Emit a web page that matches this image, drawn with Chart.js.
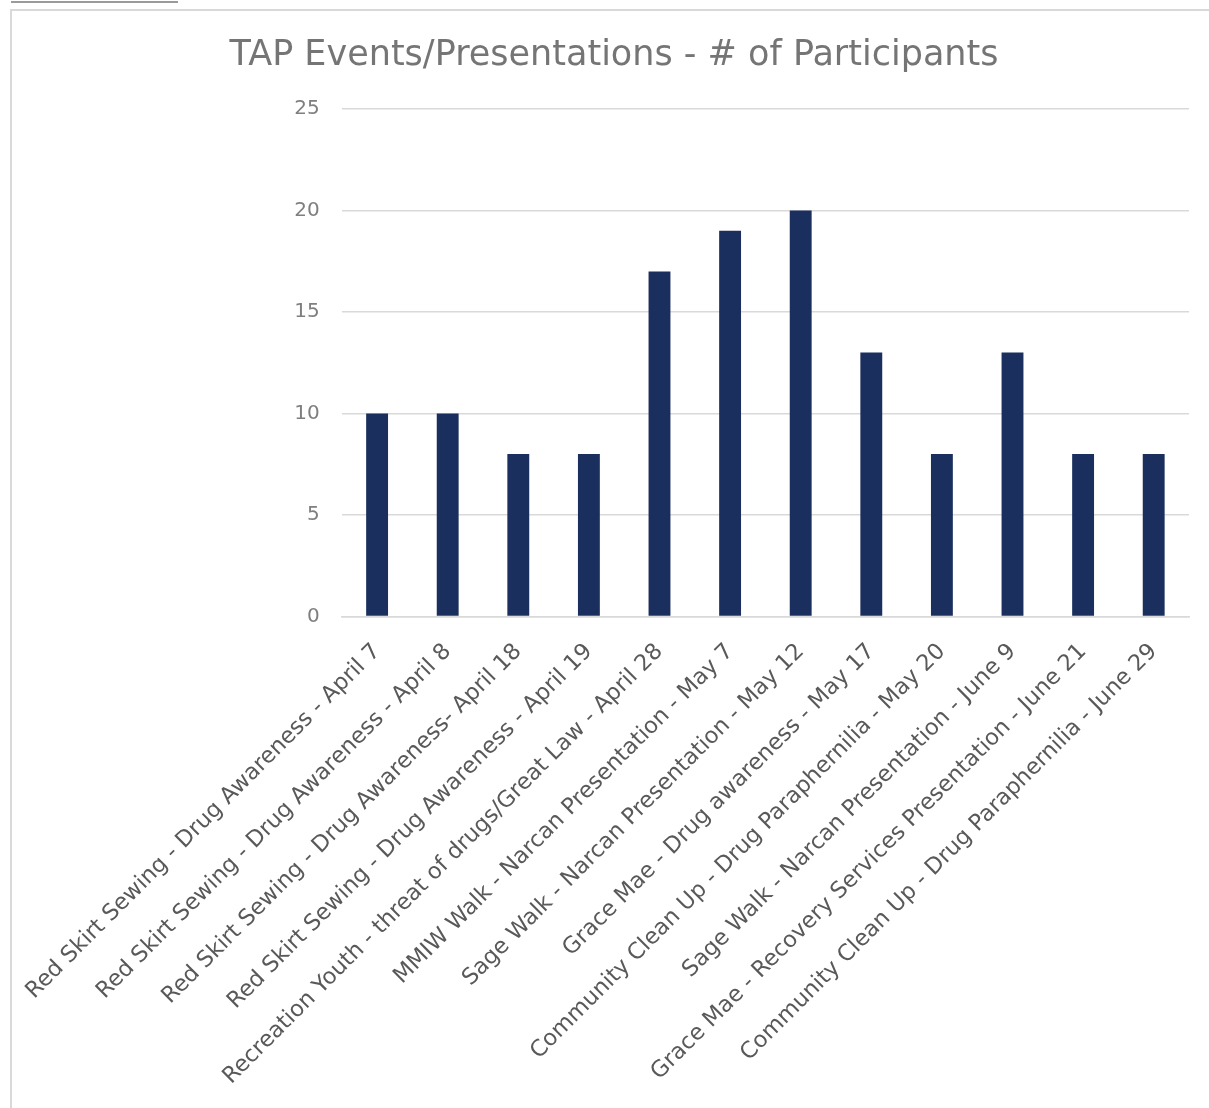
<!DOCTYPE html>
<html>
<head>
<meta charset="utf-8">
<script src="https://cdn.jsdelivr.net/npm/chart.js@4.4.0/dist/chart.umd.min.js"></script>
<style>
    body { margin: 0; background: #ffffff; overflow: hidden; }
    #linha { position: absolute; left: 11px; top: 1px; width: 167px; height: 2px; background: #9b9b9b; }
    #moldura { position: absolute; left: 10px; top: 9px; width: 1220px; height: 1120px; border: 2px solid #d9d9d9; box-sizing: border-box; }
    #caixa { position: absolute; left: 12px; top: 11px; width: 1197px; height: 1097px; }
</style>
</head>
<body>
<div id="linha"></div>
<div id="moldura"></div>
<div id="caixa"><canvas id="grafico"></canvas></div>
<script>
const eventos = [
    "Red Skirt Sewing - Drug Awareness - April 7",
    "Red Skirt Sewing - Drug Awareness - April 8",
    "Red Skirt Sewing - Drug Awareness- April 18",
    "Red Skirt Sewing - Drug Awareness - April 19",
    "Recreation Youth - threat of drugs/Great Law - April 28",
    "MMIW Walk - Narcan Presentation - May 7",
    "Sage Walk - Narcan Presentation - May 12",
    "Grace Mae - Drug awareness - May 17",
    "Community Clean Up - Drug Paraphernilia - May 20",
    "Sage Walk - Narcan Presentation - June 9",
    "Grace Mae - Recovery Services Presentation - June 21",
    "Community Clean Up - Drug Paraphernilia - June 29"
];
const participantes = [10, 10, 8, 8, 17, 19, 20, 13, 8, 13, 8, 8];
const ticksY = [0, 5, 10, 15, 20, 25];

const fonte = "'DejaVu Sans', sans-serif";
const cinza = "#595959";

new Chart(document.getElementById("grafico"), {
    type: "bar",
    data: {
        labels: eventos,
        datasets: [{
            label: "# of Participants",
            data: participantes,
            backgroundColor: "#1b2f5e",
            barPercentage: 0.31,
            categoryPercentage: 1
        }]
    },
    options: {
        responsive: true,
        maintainAspectRatio: false,
        animation: false,
        layout: { padding: { left: 27, right: 20, top: 0, bottom: 4 } },
        plugins: {
            legend: { display: false },
            tooltip: { enabled: false },
            title: {
                display: true,
                text: "TAP Events/Presentations - # of Participants",
                color: "#757575",
                font: { family: fonte, size: 35, weight: "normal" },
                padding: { top: 24, bottom: 32 }
            }
        },
        scales: {
            y: {
                min: 0,
                max: 25,
                afterBuildTicks: eixo => { eixo.ticks = ticksY.map(v => ({ value: v })); },
                grid: { color: "#d9d9d9", lineWidth: 1.5, drawTicks: false },
                border: { display: false },
                ticks: { color: "#7f7f7f", padding: 22, font: { family: fonte, size: 20 } }
            },
            x: {
                grid: { display: false },
                border: { color: "#d9d9d9", width: 1.5 },
                ticks: {
                    color: cinza,
                    minRotation: 45,
                    maxRotation: 45,
                    autoSkip: false,
                    padding: 14,
                    font: { family: fonte, size: 22.5 }
                }
            }
        }
    }
});
</script>
</body>
</html>
